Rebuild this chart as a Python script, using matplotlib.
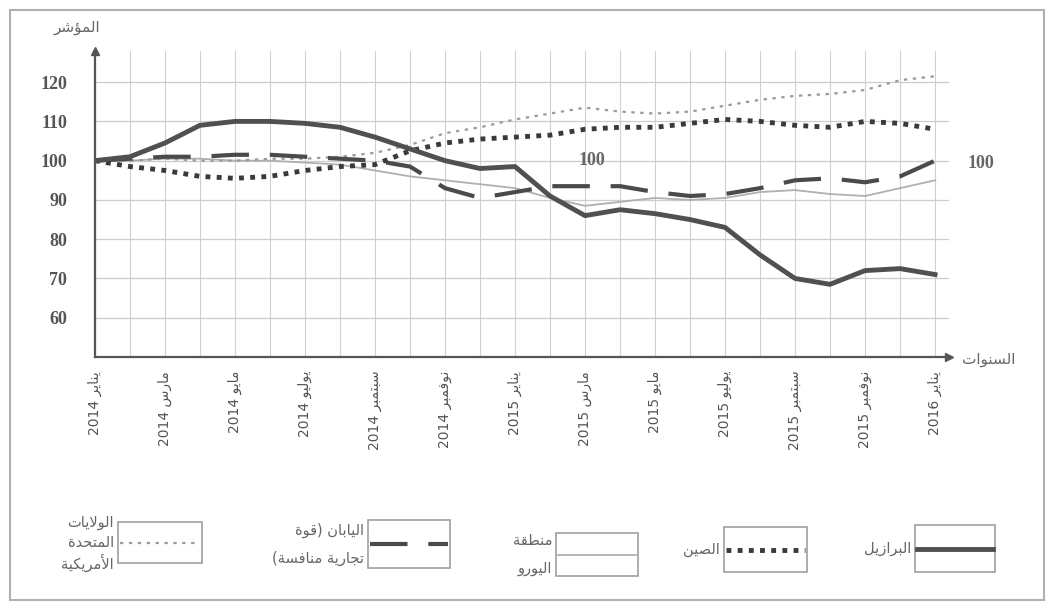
import re
import matplotlib
matplotlib.use("Agg")
import matplotlib.pyplot as plt
from matplotlib.patches import Rectangle

# monthly index, Jan 2014 .. Jan 2016 (25 points)
months = list(range(25))
brazil = [100, 101, 104.5, 109, 110, 110, 109.5, 108.5, 106, 103, 100, 98, 98.5,
          91, 86, 87.5, 86.5, 85, 83, 76, 70, 68.5, 72, 72.5, 71]
china = [100, 98.5, 97.5, 96, 95.5, 96, 97.5, 98.5, 99, 102.5, 104.5, 105.5, 106,
         106.5, 108, 108.5, 108.5, 109.5, 110.5, 110, 109, 108.5, 110, 109.5, 108]
euro = [100, 100, 100.5, 100.5, 100, 100, 99.5, 99, 97.5, 96, 95, 94, 93,
        90.5, 88.5, 89.5, 90.5, 90, 90.5, 92, 92.5, 91.5, 91, 93, 95]
japan = [100, 100.5, 101, 101, 101.5, 101.5, 101, 100.5, 100, 98.5, 93, 90.5, 92,
         93.5, 93.5, 93.5, 92, 91, 91.5, 93, 95, 95.5, 94.5, 96, 100]
usa = [100, 100, 100.5, 100, 100, 100.5, 100.5, 101, 102, 104, 107, 108.5, 110.5,
       112, 113.5, 112.5, 112, 112.5, 114, 115.5, 116.5, 117, 118, 120.5, 121.5]

tick_months = [0, 2, 4, 6, 8, 10, 12, 14, 16, 18, 20, 22, 24]
tick_labels = ["يناير 2014", "مارس 2014", "مايو 2014", "يوليو 2014", "سبتمبر 2014",
               "نوفمبر 2014", "يناير 2015", "مارس 2015", "مايو 2015", "يوليو 2015",
               "سبتمبر 2015", "نوفمبر 2015", "يناير 2016"]
y_ticks = [60, 70, 80, 90, 100, 110, 120]

# matplotlib does no arabic shaping, so pick the joined glyphs by hand
AR_FORMS = {
    'ا': (0xFE8D, False), 'أ': (0xFE83, False), 'ؤ': (0xFE85, False), 'ب': (0xFE8F, True),
    'ة': (0xFE93, False), 'ت': (0xFE95, True), 'ج': (0xFE9D, True), 'ح': (0xFEA1, True),
    'د': (0xFEA9, False), 'ر': (0xFEAD, False), 'ز': (0xFEAF, False), 'س': (0xFEB1, True),
    'ش': (0xFEB5, True), 'ص': (0xFEB9, True), 'ط': (0xFEC1, True), 'ع': (0xFEC9, True),
    'ف': (0xFED1, True), 'ق': (0xFED5, True), 'ك': (0xFED9, True), 'ل': (0xFEDD, True),
    'م': (0xFEE1, True), 'ن': (0xFEE5, True), 'ه': (0xFEE9, True), 'و': (0xFEED, False),
    'ي': (0xFEF1, True),
}
LAM_ALEF = {'ا': 0xFEFB, 'أ': 0xFEF7}


def ar(text):
    out = []
    i = 0
    prev_joins = False
    while i < len(text):
        c = text[i]
        if c == 'ل' and i + 1 < len(text) and text[i + 1] in LAM_ALEF:
            out.append(chr(LAM_ALEF[text[i + 1]] + (1 if prev_joins else 0)))
            prev_joins = False
            i += 2
            continue
        if c not in AR_FORMS:
            out.append(c)
            prev_joins = False
            i += 1
            continue
        base, dual = AR_FORMS[c]
        nxt = text[i + 1] if i + 1 < len(text) else ''
        next_joins = dual and nxt in AR_FORMS
        if dual:
            form = {(False, False): 0, (True, False): 1, (False, True): 2, (True, True): 3}[(prev_joins, next_joins)]
        else:
            form = 1 if prev_joins else 0
        out.append(chr(base + form))
        prev_joins = next_joins
        i += 1
    vis = ''.join(reversed(out))
    vis = re.sub(r'[0-9]+', lambda m: m.group(0)[::-1], vis)
    return vis.translate(str.maketrans('()', ')('))


AR_FONT = "DejaVu Sans"
NUM_FONT = "Liberation Serif"

fig = plt.figure(figsize=(10.48, 6.04), dpi=100)
ax = fig.add_axes([0.0906, 0.409, 0.815, 0.507])

ax.plot(months, euro, color="#b0b0b0", lw=1.3)
ax.plot(months, usa, color="#9a9a9a", lw=1.6, linestyle=(0, (1.5, 2.5)))
ax.plot(months, japan, color="#4a4a4a", lw=3, linestyle=(0, (9, 5)), solid_capstyle="butt")
ax.plot(months, china, color="#3a3a3a", lw=3.5, linestyle=(0, (1, 1.3)), dash_capstyle="butt")
ax.plot(months, brazil, color="#505050", lw=3.5)

ax.set_xlim(0, 24.4)
ax.set_ylim(50, 128)
ax.set_xticks(tick_months)
ax.set_xticklabels([ar(t) for t in tick_labels], rotation=90, fontsize=10,
                   family=AR_FONT, color="#555555")
ax.set_yticks(y_ticks)
ax.set_yticklabels([str(v) for v in y_ticks], fontsize=13, family=NUM_FONT,
                   color="#555555", fontweight="bold")
ax.tick_params(axis="both", length=0)
ax.tick_params(axis="y", pad=20)
ax.tick_params(axis="x", pad=10)

# light grid: every month across, every 10 up
for m in months:
    ax.axvline(m, color="#d0d0d0", lw=0.8, zorder=0)
for v in y_ticks:
    ax.axhline(v, color="#cccccc", lw=0.9, zorder=0)

for s in ["top", "right"]:
    ax.spines[s].set_visible(False)
for s in ["left", "bottom"]:
    ax.spines[s].set_color("#555555")
    ax.spines[s].set_linewidth(1.6)
ax.plot([1], [0], marker=">", color="#555555", ms=6, transform=ax.transAxes, clip_on=False)
ax.plot([0], [1], marker="^", color="#555555", ms=6, transform=ax.transAxes, clip_on=False)

ax.text(14.2, 100, "100", fontsize=13, family=NUM_FONT, color="#666666",
        ha="center", va="center", fontweight="bold")
ax.text(25.3, 99.2, "100", fontsize=13, family=NUM_FONT, color="#666666",
        ha="center", va="center", clip_on=False, fontweight="bold")

fig.text(0.073, 0.955, ar("المؤشر"), family=AR_FONT, fontsize=11, color="#666666",
         ha="center", va="center")
fig.text(0.943, 0.405, ar("السنوات"), family=AR_FONT, fontsize=11, color="#666666",
         ha="center", va="center")

# legend, drawn right to left in pixel space
lg = fig.add_axes([0, 0, 1, 1])
lg.set_xlim(0, 1048)
lg.set_ylim(604, 0)
lg.axis("off")
lg.patch.set_alpha(0)

legend_items = [
    # box x0, x1, y0, y1, text lines, style
    (915, 995, 525, 572, ["البرازيل"], dict(color="#505050", lw=3.5)),
    (724, 807, 527, 572, ["الصين"], dict(color="#3a3a3a", lw=3.5, linestyle=(0, (1, 1.3)))),
    (556, 638, 533, 576, ["منطقة", "اليورو"], dict(color="#b0b0b0", lw=1.3)),
    (368, 450, 520, 568, ["اليابان (قوة", "تجارية منافسة)"], dict(color="#4a4a4a", lw=3, linestyle=(0, (9, 5)))),
    (118, 202, 522, 563, ["الولايات", "المتحدة", "الأمريكية"], dict(color="#9a9a9a", lw=1.6, linestyle=(0, (1.5, 2.5)))),
]
for x0, x1, y0, y1, lines, style in legend_items:
    lg.add_patch(Rectangle((x0, y0), x1 - x0, y1 - y0, fill=False, edgecolor="#a0a0a0", lw=1.2))
    ym = (y0 + y1) / 2
    lg.plot([x0 + 2, x1 - 2], [ym, ym], **style)
    n = len(lines)
    step = 20 if n == 3 else 28
    for k, t in enumerate(lines):
        yy = ym + (k - (n - 1) / 2) * step
        lg.text(x0 - 4, yy, ar(t), family=AR_FONT, fontsize=10.5, color="#666666",
                ha="right", va="center")

# scanned page frame
lg.add_patch(Rectangle((10, 10), 1034, 590, fill=False, edgecolor="#b0b0b0", lw=1.5))

fig.savefig("out.png", dpi=100)
